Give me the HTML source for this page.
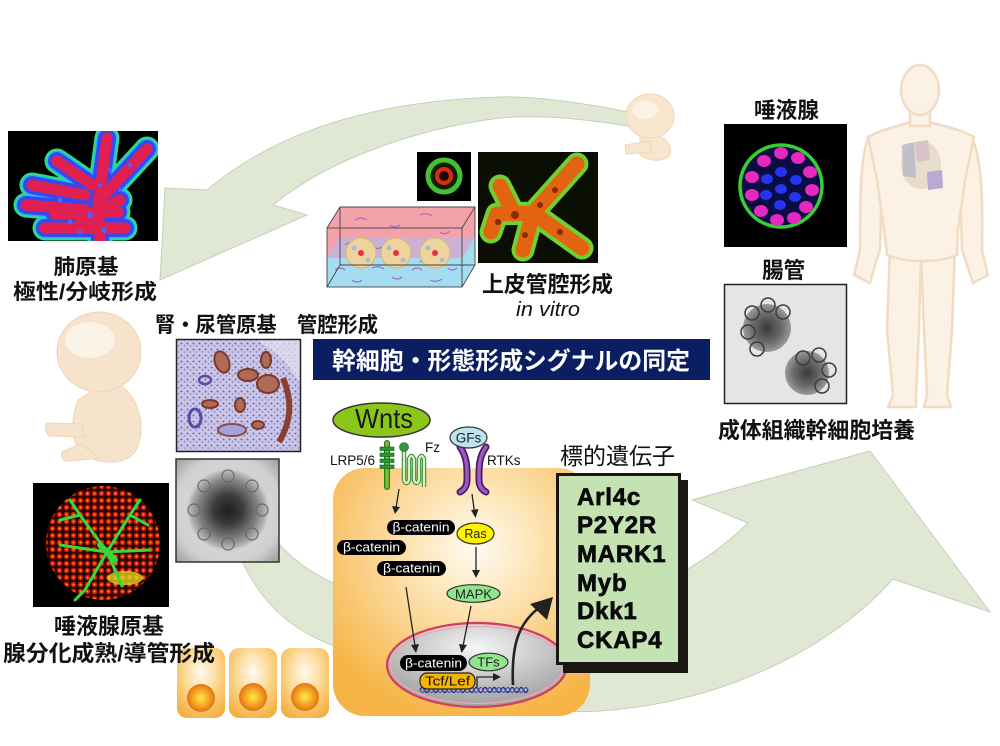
<!DOCTYPE html>
<html><head><meta charset="utf-8"><style>
html,body{margin:0;padding:0;background:#fff;}
svg{display:block;}
text{font-family:"Liberation Sans","Noto Sans CJK JP",sans-serif;}
.jp{font-weight:700;fill:#111;}
</style></head><body>
<svg width="1000" height="746" viewBox="0 0 1000 746" xmlns="http://www.w3.org/2000/svg">
<defs>
<radialGradient id="cellG" cx="0.55" cy="0.32" r="0.7"><stop offset="0" stop-color="#fffbf3"/><stop offset="0.35" stop-color="#fde4b4"/><stop offset="1" stop-color="#f6b446"/></radialGradient>
<radialGradient id="sCell" cx="0.5" cy="0.35" r="0.7"><stop offset="0" stop-color="#fffaf0"/><stop offset="0.5" stop-color="#fbd994"/><stop offset="1" stop-color="#f5b040"/></radialGradient>
<radialGradient id="sNuc" cx="0.5" cy="0.5" r="0.5"><stop offset="0" stop-color="#faea4c"/><stop offset="0.6" stop-color="#f5a224"/><stop offset="1" stop-color="#e07412"/></radialGradient>
<radialGradient id="nucG" cx="0.5" cy="0.3" r="0.7"><stop offset="0" stop-color="#f6f6f6"/><stop offset="1" stop-color="#9e9e9e"/></radialGradient>
<radialGradient id="orgBg" cx="0.5" cy="0.5" r="0.75"><stop offset="0" stop-color="#e4e4e4"/><stop offset="0.7" stop-color="#cfcfcf"/><stop offset="1" stop-color="#8e8e8e"/></radialGradient>
<radialGradient id="orgG" cx="0.5" cy="0.5" r="0.5"><stop offset="0" stop-color="#1e1e1e"/><stop offset="0.35" stop-color="#3c3c3c"/><stop offset="0.7" stop-color="#808080"/><stop offset="0.9" stop-color="#b4b4b4"/><stop offset="1" stop-color="#c8c8c8" stop-opacity="0"/></radialGradient>
<radialGradient id="intG" cx="0.5" cy="0.5" r="0.5"><stop offset="0" stop-color="#3a3a3a"/><stop offset="0.6" stop-color="#6a6a6a"/><stop offset="1" stop-color="#9a9a9a"/></radialGradient>
<pattern id="stip" width="6" height="6" patternUnits="userSpaceOnUse"><rect width="6" height="6" fill="#cbc6e8"/><circle cx="1.5" cy="1.5" r="1" fill="#6e64b0"/><circle cx="4.5" cy="4" r="0.9" fill="#8a80c4"/></pattern>
<pattern id="acini" width="7" height="7" patternUnits="userSpaceOnUse"><rect width="7" height="7" fill="#2a0600"/><circle cx="3.5" cy="3.5" r="2.7" fill="#d8180a"/><circle cx="3.5" cy="3.5" r="1" fill="#e8b020"/></pattern>
<clipPath id="cLung"><rect x="8" y="131" width="150" height="110"/></clipPath>
<clipPath id="cSal"><rect x="33" y="483" width="136" height="124"/></clipPath>
<clipPath id="cX"><rect x="478" y="152" width="120" height="111"/></clipPath>
<clipPath id="cKid"><rect x="176" y="339" width="125" height="113"/></clipPath>
</defs>

<rect width="1000" height="746" fill="#fff"/>

<!-- big curved arrows -->
<path d="M628,112 C580,102 530,96 500,97 C400,100 290,120 207,190 L165,188 L160,280 L307,215 L273,205 C330,158 420,128 500,118 C545,114 590,120 628,126 Z" fill="#e0e8d3" stroke="#c7cebd" stroke-width="1"/>
<path d="M238,552 C262,610 300,635 345,650 C430,690 520,716 600,711 C720,703 830,650 893,579 L990,612 L870,451 L692,500 L748,523 C700,570 640,600 560,610 C430,620 330,600 280,545 Z" fill="#e0e8d3" stroke="#c7cebd" stroke-width="1"/>

<!-- human figure -->
<g fill="#fbf1e4" stroke="#f1dcc3" stroke-width="2.5">
<path d="M890,245 L887,330 L893,395 L888,407 L916,407 L916,395 L919,330 L921,255 Z"/>
<path d="M921,255 L924,330 L927,395 L924,407 L951,407 L947,395 L952,330 L955,245 Z"/>
<path d="M868,138 C860,160 860,200 860,250 L854,275 L870,283 L876,262 L880,250 L882,180 Z"/>
<path d="M972,138 C982,160 983,200 982,250 L988,275 L973,283 L966,262 L962,250 L960,180 Z"/>
<path d="M868,137 C885,128 900,126 910,122 L930,122 C942,126 958,128 974,137 L965,180 L958,230 L957,255 C940,263 905,263 887,255 L884,230 L877,180 Z"/>
<rect x="910" y="106" width="20" height="20"/>
<ellipse cx="920" cy="90" rx="19" ry="25"/>
</g>
<ellipse cx="921" cy="165" rx="20" ry="24" fill="#e8dccb"/>
<path d="M902,145 L914,142 L916,178 L903,176 Z" fill="#b8b6c6" opacity="0.8"/>
<path d="M927,172 L942,170 L943,188 L928,190 Z" fill="#b8aad0"/>
<path d="M915,142 L928,140 L930,160 L917,162 Z" fill="#d8c4c8"/>

<!-- top embryo -->
<g fill="#f7e5ce" stroke="#efd6b8" stroke-width="1">
<path d="M640,130 C650,128 675,140 670,155 C665,162 650,162 640,155 Z"/>
<path d="M625,145 L650,141 L652,152 L626,154 Z"/>
<ellipse cx="650" cy="116" rx="24" ry="22"/>
</g>
<ellipse cx="645" cy="110" rx="13" ry="9" fill="#fcf2e6"/>

<!-- left embryo -->
<g fill="#f6e3cb" stroke="#efd4b4" stroke-width="1">
<path d="M110,380 C140,390 148,430 135,452 C125,465 100,465 85,455 C70,445 70,420 78,400 Z"/>
<path d="M82,424 L47,423 C44,428 46,434 50,436 L85,437 Z"/>
<path d="M80,444 L62,452 C60,458 64,462 70,461 L100,458 Z"/>
<ellipse cx="99" cy="352" rx="42" ry="40"/>
</g>
<ellipse cx="90" cy="340" rx="25" ry="18" fill="#fcf3e8"/>

<!-- lung photo -->
<g clip-path="url(#cLung)">
<rect x="8" y="131" width="150" height="110" fill="#000"/>
<g fill="none" stroke-linecap="round" stroke-linejoin="round">
<path d="M100,240 L98,200 M98,205 L107,138 M100,200 L147,149 M92,185 L57,161 M85,195 L32,185 M85,210 L26,205 M45,228 L125,228 M55,214 L118,212 M80,222 L120,200" stroke="#30e070" stroke-width="25"/>
<path d="M100,240 L98,200 M98,205 L107,138 M100,200 L147,149 M92,185 L57,161 M85,195 L32,185 M85,210 L26,205 M45,228 L125,228 M55,214 L118,212 M80,222 L120,200" stroke="#20b8ff" stroke-width="21"/>
<path d="M100,240 L98,200 M98,205 L107,138 M100,200 L147,149 M92,185 L57,161 M85,195 L32,185 M85,210 L26,205 M45,228 L125,228 M55,214 L118,212 M80,222 L120,200" stroke="#3848f0" stroke-width="18"/>
<path d="M100,240 L98,200 M98,205 L107,138 M100,200 L147,149 M92,185 L57,161 M85,195 L32,185 M85,210 L26,205 M45,228 L125,228 M55,214 L118,212 M80,222 L120,200" stroke="#e02050" stroke-width="11"/>
</g>
<g fill="#5060ff"><circle cx="90" cy="215" r="3"/><circle cx="70" cy="222" r="2.5"/><circle cx="104" cy="230" r="3"/><circle cx="110" cy="170" r="2"/><circle cx="60" cy="200" r="2.5"/><circle cx="120" cy="190" r="2"/><circle cx="80" cy="232" r="2"/><circle cx="100" cy="185" r="2"/><circle cx="130" cy="165" r="2"/></g>
</g>

<!-- salivary rudiment photo -->
<g clip-path="url(#cSal)">
<rect x="33" y="483" width="136" height="124" fill="#000"/>
<ellipse cx="103" cy="543" rx="57" ry="57" fill="url(#acini)"/>
<ellipse cx="125" cy="578" rx="18" ry="7" fill="#e6e020" opacity="0.75"/>
<g fill="none" stroke="#38d838" stroke-width="3" stroke-linecap="round">
<path d="M107,552 L80,515 L70,500 M107,552 L130,515 L140,500 M107,552 L150,550 M107,552 L85,590 L75,600 M107,552 L122,586 M107,552 L60,545 M80,515 L60,520 M130,515 L148,525"/>
<path d="M100,545 L115,560" stroke-width="6"/>
</g>
</g>

<!-- kidney section -->
<g clip-path="url(#cKid)">
<rect x="176" y="339" width="125" height="113" fill="url(#stip)"/>
<path d="M255,339 C275,350 290,365 301,385 L301,339 Z" fill="#e6e0ee" opacity="0.7"/>
<g fill="#b06a58" stroke="#7a3828" stroke-width="2">
<ellipse cx="222" cy="362" rx="7" ry="11" transform="rotate(-20 222 362)"/>
<ellipse cx="248" cy="375" rx="10" ry="6"/>
<ellipse cx="268" cy="384" rx="11" ry="9"/>
<ellipse cx="266" cy="360" rx="5" ry="8"/>
<ellipse cx="210" cy="404" rx="8" ry="4"/>
<ellipse cx="240" cy="405" rx="5" ry="7"/>
<ellipse cx="258" cy="425" rx="6" ry="4"/>
</g>
<path d="M283,378 C292,400 292,420 279,442" fill="none" stroke="#8a4030" stroke-width="6"/>
<ellipse cx="232" cy="430" rx="14" ry="6" fill="#a4a4dc" stroke="#8a4a40" stroke-width="2"/>
<ellipse cx="195" cy="418" rx="6" ry="9" fill="none" stroke="#5a4aa0" stroke-width="3"/>
<ellipse cx="205" cy="380" rx="6" ry="4" fill="none" stroke="#5a4aa0" stroke-width="2.5"/>
</g>
<rect x="176.5" y="339.5" width="124" height="112" fill="none" stroke="#222" stroke-width="1.5"/>

<!-- organoid photo -->
<rect x="176" y="459" width="103" height="103" fill="url(#orgBg)" stroke="#333" stroke-width="1.5"/>
<circle cx="228" cy="510" r="42" fill="url(#orgG)"/>
<g fill="none" stroke="#6a6a6a" stroke-width="1.2">
<circle cx="228" cy="476" r="6"/><circle cx="252" cy="486" r="6"/><circle cx="262" cy="510" r="6"/><circle cx="252" cy="534" r="6"/><circle cx="228" cy="544" r="6"/><circle cx="204" cy="534" r="6"/><circle cx="194" cy="510" r="6"/><circle cx="204" cy="486" r="6"/>
</g>

<!-- three small cells -->
<g>
<rect x="177" y="648" width="48" height="70" rx="10" fill="url(#sCell)"/>
<rect x="229" y="648" width="48" height="70" rx="10" fill="url(#sCell)"/>
<rect x="281" y="648" width="48" height="70" rx="10" fill="url(#sCell)"/>
<circle cx="201" cy="698" r="14" fill="url(#sNuc)"/>
<circle cx="253" cy="697" r="14" fill="url(#sNuc)"/>
<circle cx="305" cy="697" r="14" fill="url(#sNuc)"/>
</g>

<!-- 3D hydrogel box -->
<polygon points="327,228 340,207 475,207 475,237 462,258 327,258" fill="#f4a2aa"/>
<polygon points="327,258 340,237 475,237 475,265 462,287 327,287" fill="#a6dcf2"/>
<polygon points="327,258 340,237 475,237 462,258" fill="#c9b2d6"/>
<g fill="none" stroke="#a070c4" stroke-width="1.2">
<path d="M355,220 q6,-4 12,0 M390,225 q5,4 10,0 M420,215 q6,-3 12,1 M440,232 q5,4 10,-1 M345,245 q4,-4 9,0 M373,247 q4,3 9,0"/>
<path d="M335,270 q5,-4 10,0 M352,280 q5,4 10,0 M372,268 q6,-3 12,1 M392,277 q5,4 10,0 M412,270 q5,-4 10,0 M430,280 q6,3 12,-1 M448,268 q4,4 9,0 M365,262 q4,3 8,0 M420,262 q4,-3 8,0"/>
</g>
<g stroke="#d8b870" stroke-width="1" fill="#ecd49c">
<circle cx="361" cy="253" r="15"/><circle cx="396" cy="253" r="15"/><circle cx="435" cy="253" r="15"/>
</g>
<g fill="#b0b8dc"><circle cx="354" cy="248" r="2.5"/><circle cx="368" cy="260" r="2.5"/><circle cx="389" cy="248" r="2.5"/><circle cx="403" cy="260" r="2.5"/><circle cx="428" cy="248" r="2.5"/><circle cx="442" cy="260" r="2.5"/></g>
<g fill="#e83040"><circle cx="361" cy="253" r="3"/><circle cx="396" cy="253" r="3"/><circle cx="435" cy="253" r="3"/></g>
<g fill="none" stroke="#444" stroke-width="0.9">
<rect x="327" y="228" width="135" height="59"/>
<path d="M327,228 L340,207 L475,207 L462,228 M475,207 L475,265 L462,287 M340,207 L340,265 L327,287 M340,265 L475,265"/>
</g>

<!-- small ring photo -->
<rect x="417" y="152" width="54" height="49" fill="#000"/>
<circle cx="444" cy="176" r="16" fill="#0c2006" stroke="#44c030" stroke-width="5"/>
<circle cx="444" cy="176" r="7" fill="#200800" stroke="#e02a10" stroke-width="4"/>

<!-- X shaped photo -->
<g clip-path="url(#cX)">
<rect x="478" y="152" width="120" height="111" fill="#0a0e04"/>
<g fill="none" stroke-linecap="round" stroke-linejoin="round">
<path d="M533,213 L577,164 M533,213 L582,248 M533,213 L497,214 M497,214 L491,232 M533,213 L523,250 M512,210 L500,186" stroke="#70d030" stroke-width="23"/>
<path d="M533,213 L577,164 M533,213 L582,248 M533,213 L497,214 M497,214 L491,232 M533,213 L523,250 M512,210 L500,186" stroke="#e26410" stroke-width="15"/>
</g>
<g fill="#8a2a00"><circle cx="515" cy="215" r="4"/><circle cx="540" cy="205" r="3"/><circle cx="555" cy="190" r="3"/><circle cx="525" cy="235" r="3"/><circle cx="560" cy="232" r="3"/><circle cx="498" cy="222" r="3"/></g>
</g>

<!-- salivary culture photo -->
<rect x="724" y="124" width="123" height="123" fill="#000"/>
<circle cx="781" cy="186" r="41" fill="#0c0c44" stroke="#34d034" stroke-width="3.5"/>
<g fill="#e428c0">
<ellipse cx="781" cy="153" rx="7" ry="6"/><ellipse cx="798" cy="158" rx="7" ry="6"/><ellipse cx="810" cy="172" rx="7" ry="6"/><ellipse cx="812" cy="190" rx="7" ry="6"/><ellipse cx="806" cy="207" rx="7" ry="6"/><ellipse cx="794" cy="218" rx="7" ry="6"/><ellipse cx="777" cy="220" rx="7" ry="6"/><ellipse cx="761" cy="211" rx="7" ry="6"/><ellipse cx="752" cy="195" rx="7" ry="6"/><ellipse cx="752" cy="177" rx="7" ry="6"/><ellipse cx="764" cy="161" rx="7" ry="6"/>
</g>
<g fill="#2434f0">
<ellipse cx="781" cy="172" rx="6" ry="5"/><ellipse cx="796" cy="180" rx="6" ry="5"/><ellipse cx="795" cy="197" rx="6" ry="5"/><ellipse cx="780" cy="205" rx="6" ry="5"/><ellipse cx="766" cy="195" rx="6" ry="5"/><ellipse cx="767" cy="179" rx="6" ry="5"/><ellipse cx="781" cy="189" rx="6" ry="5"/>
</g>

<!-- intestinal organoid photo -->
<rect x="724.5" y="284.5" width="122" height="119" fill="#e5e5e5" stroke="#222" stroke-width="1.5"/>
<circle cx="767" cy="328" r="24" fill="url(#intG)"/>
<g fill="none" stroke="#3c3c3c" stroke-width="1.5"><circle cx="752" cy="313" r="7"/><circle cx="768" cy="305" r="7"/><circle cx="783" cy="312" r="7"/><circle cx="748" cy="332" r="7"/><circle cx="757" cy="349" r="7"/></g>
<circle cx="807" cy="373" r="22" fill="url(#intG)"/>
<g fill="none" stroke="#3c3c3c" stroke-width="1.5"><circle cx="803" cy="358" r="7"/><circle cx="819" cy="355" r="7"/><circle cx="829" cy="370" r="7"/><circle cx="822" cy="386" r="7"/></g>

<!-- banner -->
<rect x="313" y="339" width="397" height="41" fill="#0c1e62"/>
<text x="332" y="369" font-size="24" font-weight="700" fill="#fff" textLength="358" lengthAdjust="spacingAndGlyphs">幹細胞・形態形成シグナルの同定</text>

<!-- big cell -->
<rect x="333" y="468" width="257" height="248" rx="32" fill="url(#cellG)"/>

<!-- nucleus -->
<ellipse cx="477" cy="665" rx="90" ry="42" fill="url(#nucG)" stroke="#d63c5a" stroke-width="2.2"/>
<ellipse cx="477" cy="665" rx="86.5" ry="38.5" fill="none" stroke="#f2a6b6" stroke-width="1.3"/>

<!-- receptors -->
<line x1="387" y1="443" x2="387" y2="487" stroke="#2f7a1a" stroke-width="6" stroke-linecap="round"/>
<line x1="387" y1="443" x2="387" y2="487" stroke="#7cc22c" stroke-width="3.5" stroke-linecap="round"/>
<g fill="#1f9a34" stroke="#145a1a" stroke-width="0.6"><rect x="380" y="447" width="14" height="3.5"/><rect x="380" y="453" width="14" height="3.5"/><rect x="380" y="459" width="14" height="3.5"/><rect x="380" y="465" width="14" height="3.5"/></g>
<path d="M404,451 L404,480 Q406.5,486 409,480 L409,459 Q411.5,453 414,459 L414,480 Q416.5,486 419,480 L419,459 Q421.5,453 424,459 L424,487" fill="none" stroke="#3a8a3a" stroke-width="4.5" stroke-linejoin="round"/>
<path d="M404,451 L404,480 Q406.5,486 409,480 L409,459 Q411.5,453 414,459 L414,480 Q416.5,486 419,480 L419,459 Q421.5,453 424,459 L424,487" fill="none" stroke="#d6f2c6" stroke-width="2.3" stroke-linejoin="round"/>
<circle cx="404" cy="447" r="4.5" fill="#2a9a3a" stroke="#1a5a1a" stroke-width="0.6"/>
<g fill="none" stroke-linecap="round">
<path d="M460,447 C468,458 467,470 467,480 C467,486 464,490 460,492" stroke="#4a1a6a" stroke-width="7"/>
<path d="M486,447 C478,458 479,470 479,480 C479,486 482,490 486,492" stroke="#4a1a6a" stroke-width="7"/>
<path d="M460,447 C468,458 467,470 467,480 C467,486 464,490 460,492" stroke="#9a5ac0" stroke-width="3.5"/>
<path d="M486,447 C478,458 479,470 479,480 C479,486 482,490 486,492" stroke="#9a5ac0" stroke-width="3.5"/>
</g>
<ellipse cx="381.5" cy="420" rx="48.5" ry="17" fill="#8cc61a" stroke="#333" stroke-width="1.5"/>
<text x="355" y="428" font-size="28" fill="#1a1a1a" textLength="58" lengthAdjust="spacingAndGlyphs">Wnts</text>
<ellipse cx="468.5" cy="437.5" rx="18.5" ry="10.5" fill="#c0e4ef" stroke="#333" stroke-width="1.2"/>
<text x="468.5" y="442.5" font-size="13.5" fill="#222" text-anchor="middle">GFs</text>
<text x="330" y="465" font-size="13.5" fill="#111">LRP5/6</text>
<text x="425" y="452" font-size="13.5" fill="#111">Fz</text>
<text x="487" y="465" font-size="13.5" fill="#111">RTKs</text>

<!-- arrows -->
<g stroke="#222" stroke-width="1.3" fill="none">
<line x1="399" y1="489" x2="396" y2="508"/>
<line x1="472" y1="494" x2="474.5" y2="512"/>
<line x1="476" y1="547" x2="476" y2="572"/>
<line x1="406" y1="587" x2="415" y2="646"/>
<line x1="471" y1="606" x2="463" y2="646"/>
</g>
<g fill="#222">
<polygon points="395,514 392,506 400,507"/>
<polygon points="475.5,518 471,510 478.5,509"/>
<polygon points="476,578 472,570 480,570"/>
<polygon points="416,653 411,645 419,644"/>
<polygon points="461.5,653 459,644 467,645"/>
</g>

<!-- pathway molecules -->
<g>
<rect x="387" y="520" width="68" height="15" rx="7.5" fill="#000"/>
<text x="421" y="531.5" font-size="12.5" fill="#fff" text-anchor="middle" textLength="57" lengthAdjust="spacingAndGlyphs">β-catenin</text>
<rect x="337" y="540" width="69" height="15" rx="7.5" fill="#000"/>
<text x="371.5" y="551.5" font-size="12.5" fill="#fff" text-anchor="middle" textLength="57" lengthAdjust="spacingAndGlyphs">β-catenin</text>
<rect x="377" y="561" width="69" height="15" rx="7.5" fill="#000"/>
<text x="411.5" y="572.5" font-size="12.5" fill="#fff" text-anchor="middle" textLength="57" lengthAdjust="spacingAndGlyphs">β-catenin</text>
<ellipse cx="475.5" cy="533.5" rx="18.5" ry="10.5" fill="#fff200" stroke="#333" stroke-width="1.2"/>
<text x="475.5" y="538" font-size="12.5" fill="#222" text-anchor="middle">Ras</text>
<ellipse cx="473.5" cy="593.5" rx="26.5" ry="8.8" fill="#90e68c" stroke="#333" stroke-width="1.2"/>
<text x="473.5" y="598.3" font-size="13" fill="#222" text-anchor="middle" textLength="37" lengthAdjust="spacingAndGlyphs">MAPK</text>
<rect x="400" y="655" width="67" height="16" rx="8" fill="#000"/>
<text x="433.5" y="667.3" font-size="12.5" fill="#fff" text-anchor="middle" textLength="57" lengthAdjust="spacingAndGlyphs">β-catenin</text>
<ellipse cx="488.5" cy="662" rx="19.5" ry="8.8" fill="#90e68c" stroke="#333" stroke-width="1.2"/>
<text x="488.5" y="666.5" font-size="13" fill="#222" text-anchor="middle">TFs</text>
</g>
<!-- DNA -->
<path d="M420,690 q2.25,-5 4.5,0 t4.5,0 t4.5,0 t4.5,0 t4.5,0 t4.5,0 t4.5,0 t4.5,0 t4.5,0 t4.5,0 t4.5,0 t4.5,0 t4.5,0 t4.5,0 t4.5,0 t4.5,0 t4.5,0 t4.5,0 t4.5,0 t4.5,0 t4.5,0 t4.5,0 t4.5,0 t4.5,0" fill="none" stroke="#1a237e" stroke-width="1.3"/>
<path d="M420,690 q2.25,5 4.5,0 t4.5,0 t4.5,0 t4.5,0 t4.5,0 t4.5,0 t4.5,0 t4.5,0 t4.5,0 t4.5,0 t4.5,0 t4.5,0 t4.5,0 t4.5,0 t4.5,0 t4.5,0 t4.5,0 t4.5,0 t4.5,0 t4.5,0 t4.5,0 t4.5,0 t4.5,0 t4.5,0" fill="none" stroke="#4a58b0" stroke-width="1.3"/>
<rect x="420" y="673" width="55" height="16" rx="7" fill="#f6b300" stroke="#222" stroke-width="1.2"/>
<text x="447.5" y="685.5" font-size="12.5" fill="#111" text-anchor="middle" textLength="45" lengthAdjust="spacingAndGlyphs">Tcf/Lef</text>
<path d="M477,687 L477,677 L494,677" fill="none" stroke="#222" stroke-width="1.3"/>
<polygon points="501,677 493,673 493,681" fill="#222"/>
<!-- curved arrow to targets -->
<path d="M513,685 C511,642 520,622 540,607" fill="none" stroke="#222" stroke-width="2.6"/>
<polygon points="553,597 530,604 547,620" fill="#222"/>

<!-- target gene box -->
<text x="560" y="464" font-size="23" fill="#111" textLength="115" lengthAdjust="spacingAndGlyphs">標的遺伝子</text>
<rect x="563" y="480" width="125" height="193" fill="#1c1612"/>
<rect x="557.5" y="474.5" width="122" height="189" fill="#c5e2b2" stroke="#1c1612" stroke-width="3"/>
<g font-size="24" font-weight="700" fill="#0a0a0a" stroke="#0a0a0a" stroke-width="0.7" letter-spacing="0.8">
<text x="577" y="505">Arl4c</text>
<text x="577" y="533">P2Y2R</text>
<text x="577" y="562">MARK1</text>
<text x="577" y="591">Myb</text>
<text x="577" y="619">Dkk1</text>
<text x="577" y="648">CKAP4</text>
</g>

<!-- Japanese labels -->
<text class="jp" x="86" y="274" font-size="21" text-anchor="middle" textLength="65" lengthAdjust="spacingAndGlyphs">肺原基</text>
<text class="jp" x="13" y="299" font-size="21" textLength="144" lengthAdjust="spacingAndGlyphs">極性/分岐形成</text>
<text class="jp" x="155" y="332" font-size="21" textLength="223" lengthAdjust="spacingAndGlyphs">腎・尿管原基　管腔形成</text>
<text class="jp" x="482" y="292" font-size="22" textLength="131" lengthAdjust="spacingAndGlyphs">上皮管腔形成</text>
<text x="516" y="316" font-size="20" font-style="italic" fill="#111" textLength="64" lengthAdjust="spacingAndGlyphs">in vitro</text>
<text class="jp" x="754" y="118" font-size="22" textLength="65" lengthAdjust="spacingAndGlyphs">唾液腺</text>
<text class="jp" x="762" y="278" font-size="22" textLength="43" lengthAdjust="spacingAndGlyphs">腸管</text>
<text class="jp" x="718" y="438" font-size="22" textLength="197" lengthAdjust="spacingAndGlyphs">成体組織幹細胞培養</text>
<text class="jp" x="54" y="634" font-size="22" textLength="110" lengthAdjust="spacingAndGlyphs">唾液腺原基</text>
<text class="jp" x="3" y="661" font-size="22" textLength="212" lengthAdjust="spacingAndGlyphs">腺分化成熟/導管形成</text>
</svg>
</body></html>
